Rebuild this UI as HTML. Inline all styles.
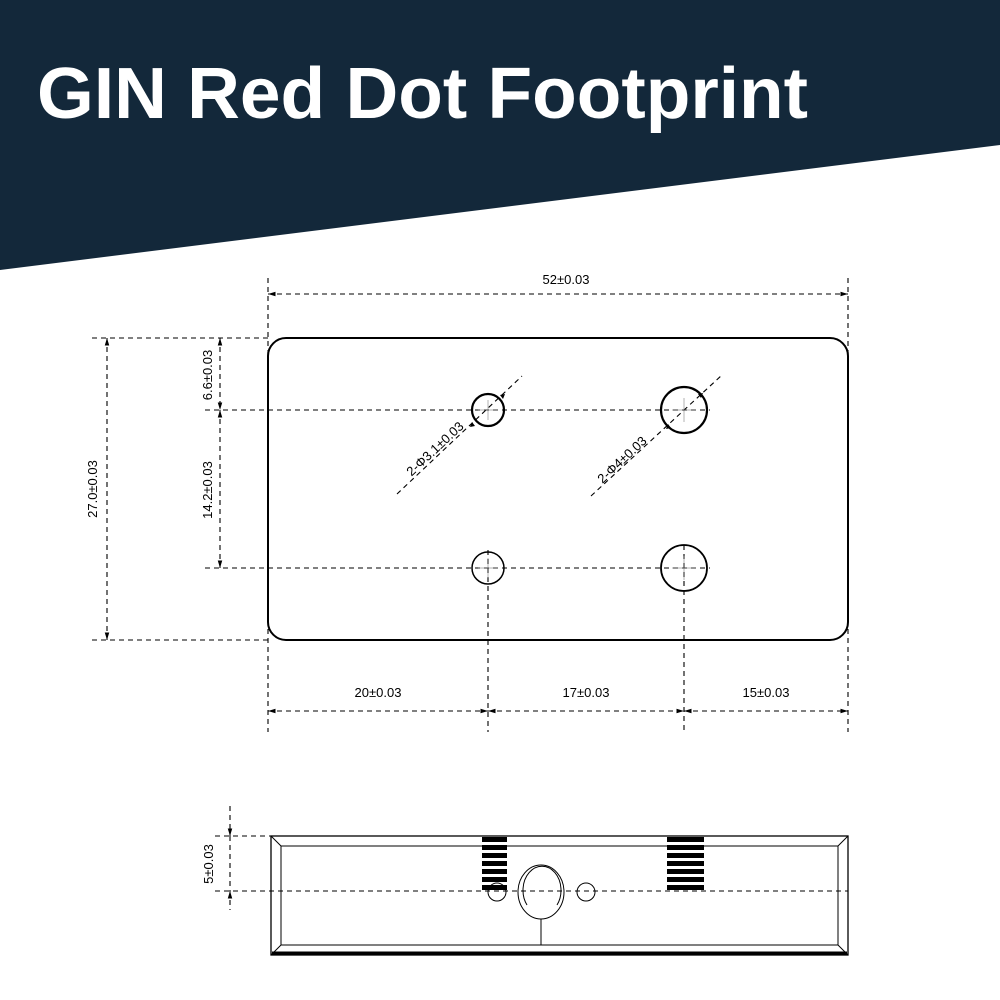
<!DOCTYPE html>
<html><head><meta charset="utf-8"><style>
html,body{margin:0;padding:0;background:#fff;}
svg{display:block;}
</style></head><body>
<svg width="1000" height="1000" viewBox="0 0 1000 1000" xmlns="http://www.w3.org/2000/svg" font-family="Liberation Sans, sans-serif">
<defs>
<marker id="a" viewBox="0 0 10 10" refX="10" refY="5" markerWidth="7" markerHeight="7" orient="auto-start-reverse"><path d="M0,2 L10,5 L0,8 z" fill="#000"/></marker>
</defs>
<rect width="1000" height="1000" fill="#fff"/>
<polygon points="0,0 1000,0 1000,145 0,270" fill="#13283a"/>
<text x="37" y="118" font-size="72" font-weight="bold" fill="#fff" textLength="771" lengthAdjust="spacingAndGlyphs">GIN Red Dot Footprint</text>

<g stroke="#000" fill="none">
<rect x="268" y="338" width="580" height="302" rx="18" stroke-width="2"/>
<circle cx="488" cy="410" r="16" stroke-width="2.2"/>
<circle cx="684" cy="410" r="23" stroke-width="2.2"/>
<circle cx="488" cy="568" r="16" stroke-width="1.5"/>
<circle cx="684" cy="568" r="23" stroke-width="1.8"/>
<g stroke-width="1.1" stroke-dasharray="5,4">
<line x1="268" y1="278" x2="268" y2="732"/>
<line x1="848" y1="278" x2="848" y2="732"/>
<line x1="92" y1="338" x2="268" y2="338"/>
<line x1="92" y1="640" x2="268" y2="640"/>
<line x1="205" y1="410" x2="710" y2="410"/>
<line x1="205" y1="568" x2="710" y2="568"/>
<line x1="488" y1="550" x2="488" y2="732"/>
<line x1="684" y1="545" x2="684" y2="732"/>
<line x1="107" y1="338" x2="107" y2="640" marker-start="url(#a)" marker-end="url(#a)"/>
<line x1="220" y1="338" x2="220" y2="410" marker-start="url(#a)" marker-end="url(#a)"/>
<line x1="220" y1="410" x2="220" y2="568" marker-start="url(#a)" marker-end="url(#a)"/>
<line x1="268" y1="294" x2="848" y2="294" marker-start="url(#a)" marker-end="url(#a)"/>
<line x1="268" y1="711" x2="488" y2="711" marker-start="url(#a)" marker-end="url(#a)"/>
<line x1="488" y1="711" x2="684" y2="711" marker-start="url(#a)" marker-end="url(#a)"/>
<line x1="684" y1="711" x2="848" y2="711" marker-start="url(#a)" marker-end="url(#a)"/>
<line x1="397" y1="494" x2="522" y2="376"/>
<line x1="591" y1="496" x2="722" y2="375"/>
</g>
<g stroke-width="0.5" stroke="#666">
<line x1="488" y1="400" x2="488" y2="420"/><line x1="478" y1="410" x2="498" y2="410"/>
<line x1="684" y1="398" x2="684" y2="422"/><line x1="672" y1="410" x2="696" y2="410"/>
<line x1="488" y1="558" x2="488" y2="578"/><line x1="478" y1="568" x2="498" y2="568"/>
<line x1="684" y1="556" x2="684" y2="580"/><line x1="672" y1="568" x2="696" y2="568"/>
</g>
<path d="M470,427 l5,-1 l-3,-4z M505,394 l-5,1 l3,4z M666,429 l5,-1 l-3,-4z M703,393 l-5,1 l3,4z" fill="#000" stroke="none"/>

<rect x="271" y="836" width="577" height="119" stroke-width="1.3"/>
<line x1="281" y1="846" x2="838" y2="846" stroke-width="1"/>
<line x1="281" y1="945" x2="838" y2="945" stroke-width="1"/>
<line x1="281" y1="846" x2="281" y2="945" stroke-width="1"/>
<line x1="838" y1="846" x2="838" y2="945" stroke-width="1"/>
<line x1="271" y1="836" x2="281" y2="846" stroke-width="1"/>
<line x1="848" y1="836" x2="838" y2="846" stroke-width="1"/>
<line x1="271" y1="955" x2="281" y2="945" stroke-width="1"/>
<line x1="848" y1="955" x2="838" y2="945" stroke-width="1"/>
<line x1="272" y1="953" x2="847" y2="953" stroke-width="3"/>
<ellipse cx="541" cy="892" rx="23" ry="27" stroke-width="1"/>
<path d="M527,905 A19,24 0 1 1 557,905" stroke-width="1"/>
<line x1="541" y1="919" x2="541" y2="945" stroke-width="1"/>
<circle cx="497" cy="892" r="9" stroke-width="1"/>
<circle cx="586" cy="892" r="9" stroke-width="1"/>
<g stroke-width="1.1" stroke-dasharray="5,4">
<line x1="215" y1="891" x2="848" y2="891"/>
<line x1="215" y1="836" x2="271" y2="836"/>
<line x1="230" y1="806" x2="230" y2="836" marker-end="url(#a)"/>
<line x1="230" y1="891" x2="230" y2="910" marker-start="url(#a)"/>
<line x1="230" y1="836" x2="230" y2="891"/>
</g>
</g>
<g fill="#000">
<rect x="482" y="837" width="25" height="5"/><rect x="482" y="845" width="25" height="5"/><rect x="482" y="853" width="25" height="5"/><rect x="482" y="861" width="25" height="5"/><rect x="482" y="869" width="25" height="5"/><rect x="482" y="877" width="25" height="5"/><rect x="482" y="885" width="25" height="5"/>
<rect x="667" y="837" width="37" height="5"/><rect x="667" y="845" width="37" height="5"/><rect x="667" y="853" width="37" height="5"/><rect x="667" y="861" width="37" height="5"/><rect x="667" y="869" width="37" height="5"/><rect x="667" y="877" width="37" height="5"/><rect x="667" y="885" width="37" height="5"/>
</g>

<g font-size="13" fill="#000">
<text x="566" y="284" text-anchor="middle">52±0.03</text>
<text x="378" y="697" text-anchor="middle">20±0.03</text>
<text x="586" y="697" text-anchor="middle">17±0.03</text>
<text x="766" y="697" text-anchor="middle">15±0.03</text>
<text transform="translate(97,489) rotate(-90)" text-anchor="middle">27.0±0.03</text>
<text transform="translate(212,375) rotate(-90)" text-anchor="middle">6.6±0.03</text>
<text transform="translate(212,490) rotate(-90)" text-anchor="middle">14.2±0.03</text>
<text transform="translate(213,864) rotate(-90)" text-anchor="middle">5±0.03</text>
<text transform="translate(438,452) rotate(-43)" text-anchor="middle">2-Φ3.1±0.03</text>
<text transform="translate(625,463) rotate(-43)" text-anchor="middle">2-Φ4±0.03</text>
</g>
</svg>
</body></html>
